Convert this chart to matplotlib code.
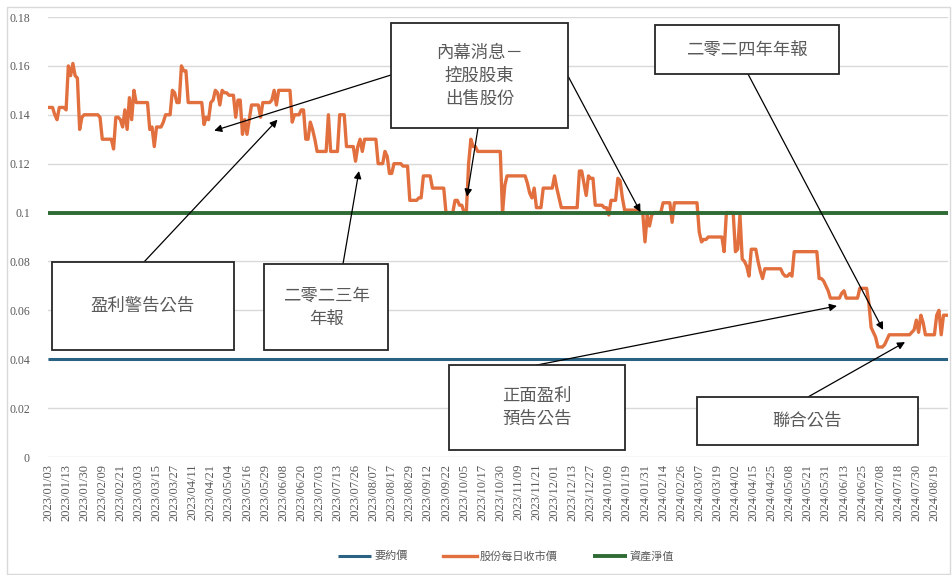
import matplotlib
matplotlib.use('Agg')
import numpy as np
import matplotlib.pyplot as plt
from matplotlib.patches import Rectangle

# category labels, one every 8th trading day
date_labels = [
    '2023/01/03', '2023/01/13', '2023/01/30', '2023/02/09', '2023/02/21',
    '2023/03/03', '2023/03/15', '2023/03/27', '2023/04/11', '2023/04/21',
    '2023/05/04', '2023/05/16', '2023/05/29', '2023/06/08', '2023/06/20',
    '2023/07/03', '2023/07/13', '2023/07/26', '2023/08/07', '2023/08/17',
    '2023/08/29', '2023/09/12', '2023/09/22', '2023/10/05', '2023/10/17',
    '2023/10/30', '2023/11/09', '2023/11/21', '2023/12/01', '2023/12/13',
    '2023/12/27', '2024/01/09', '2024/01/19', '2024/01/31', '2024/02/14',
    '2024/02/26', '2024/03/07', '2024/03/19', '2024/04/02', '2024/04/15',
    '2024/04/25', '2024/05/08', '2024/05/21', '2024/05/31', '2024/06/13',
    '2024/06/25', '2024/07/08', '2024/07/18', '2024/07/30', '2024/08/19',
]
label_step = 8

offer_price = 0.04
nav_value = 0.10

# daily close, as (price, number of trading days) runs
close_runs_a = [
    (0.143, 3), (0.140, 1), (0.138, 1), (0.143, 3), (0.142, 1), (0.160, 1),
    (0.156, 1), (0.161, 1), (0.156, 1), (0.155, 1), (0.134, 1), (0.139, 1),
    (0.140, 7), (0.139, 1), (0.130, 5), (0.126, 1), (0.139, 2), (0.138, 1),
    (0.135, 1), (0.142, 1), (0.134, 1), (0.147, 1), (0.138, 1), (0.150, 1),
    (0.145, 6), (0.134, 1), (0.135, 1), (0.127, 1), (0.135, 3), (0.137, 1),
    (0.140, 3), (0.150, 1), (0.149, 1), (0.145, 2), (0.160, 1), (0.158, 2),
]
close_runs_b = [
    (0.145, 7), (0.136, 1), (0.139, 1), (0.138, 1), (0.145, 1), (0.146, 1),
    (0.150, 1), (0.149, 1), (0.144, 1), (0.150, 1), (0.149, 2), (0.148, 3),
    (0.139, 1), (0.146, 2), (0.132, 1), (0.138, 1), (0.132, 1), (0.138, 1),
    (0.144, 4), (0.139, 1), (0.145, 4), (0.146, 1), (0.150, 1), (0.144, 1),
    (0.150, 6), (0.137, 1), (0.140, 3), (0.142, 2), (0.130, 2), (0.137, 1),
    (0.134, 1), (0.130, 1),
]
close_runs_c = [
    (0.125, 5), (0.140, 1), (0.125, 4), (0.140, 3), (0.127, 4), (0.121, 1),
    (0.127, 1), (0.130, 1), (0.125, 1), (0.130, 6), (0.120, 3), (0.125, 1),
    (0.123, 1), (0.116, 2), (0.120, 4), (0.119, 3), (0.105, 4), (0.106, 2),
    (0.115, 4), (0.110, 6), (0.100, 4), (0.105, 2), (0.103, 2), (0.100, 2),
    (0.120, 1), (0.130, 1), (0.127, 2), (0.125, 11), (0.100, 1), (0.111, 1),
    (0.115, 9), (0.112, 1), (0.108, 1), (0.106, 1), (0.110, 1), (0.102, 3),
    (0.110, 5), (0.115, 1), (0.110, 1), (0.106, 1), (0.102, 8), (0.117, 2),
    (0.112, 1), (0.107, 1), (0.115, 1), (0.114, 2), (0.103, 4), (0.102, 2),
    (0.099, 1), (0.105, 3), (0.114, 1), (0.113, 1), (0.106, 1), (0.101, 7),
    (0.100, 2), (0.088, 1), (0.099, 1), (0.0945, 1), (0.099, 1), (0.100, 4),
]
close_runs_d = [
    (0.104, 4), (0.096, 1), (0.104, 11), (0.092, 1), (0.088, 1), (0.089, 2),
    (0.090, 7), (0.084, 1), (0.100, 4), (0.084, 1), (0.085, 1), (0.099, 1),
    (0.081, 1), (0.080, 1), (0.078, 1), (0.074, 1), (0.085, 3), (0.080, 1),
    (0.076, 1), (0.073, 1), (0.077, 8), (0.075, 1), (0.074, 2), (0.075, 1),
    (0.074, 1), (0.084, 11), (0.073, 2), (0.072, 1),
]
close_runs_e = [
    (0.070, 1), (0.068, 1), (0.065, 5), (0.067, 1), (0.068, 1), (0.065, 6),
    (0.069, 4), (0.063, 1), (0.053, 1), (0.051, 1), (0.049, 1), (0.045, 3),
    (0.046, 1), (0.048, 1), (0.050, 10), (0.051, 1), (0.052, 1), (0.056, 1),
    (0.051, 1), (0.058, 1), (0.055, 1), (0.050, 5), (0.058, 1), (0.060, 1),
    (0.050, 1), (0.058, 3),
]

runs = close_runs_a + close_runs_b + close_runs_c + close_runs_d + close_runs_e
close = np.repeat([r[0] for r in runs], [r[1] for r in runs])
days = np.arange(len(close))

# callouts: text, box (left, top, right, bottom in px), arrow start (px), arrow target (day, price)
callouts = [
    ('盈利警告公告', (52, 262, 234, 350), (144, 262), (101.5, 0.138)),
    ('內幕消息－\n控股股東\n出售股份', (391, 23, 568, 128), (391, 75), (73.5, 0.1335)),
    (None, None, (478, 128), (185.3, 0.1065)),
    (None, None, (568, 76), (262.0, 0.1002)),
    ('二零二三年\n年報', (264, 264, 388, 350), (343, 264), (137.5, 0.117)),
    ('二零二四年年報', (655, 25, 839, 74), (748, 74), (369.3, 0.052)),
    ('正面盈利\n預告公告', (449, 365, 625, 450), (537, 365), (348.9, 0.0618)),
    ('聯合公告', (697, 397, 918, 445), (808, 397), (379.0, 0.047)),
]

W, H = 952, 575
cjk = ['Noto Sans CJK TC', 'DejaVu Sans']
grey = '#595959'


def px(x, y):
    return x / W, 1 - y / H


fig = plt.figure(figsize=(W / 100, H / 100), dpi=100)
ax = fig.add_axes([48 / W, 1 - 457 / H, 900 / W, 440 / H])

l_offer, = ax.plot([days[0], days[-1]], [offer_price, offer_price], color='#2A6283', lw=2.2, solid_capstyle='butt')
l_close, = ax.plot(days, close, color='#E2703F', lw=2.4, solid_joinstyle='round')
l_nav, = ax.plot([days[0], days[-1]], [nav_value, nav_value], color='#2F6B35', lw=2.8, solid_capstyle='butt')

ax.set_xlim(0, len(close) - 1)
ax.set_ylim(0, 0.18)
ax.set_yticks(np.arange(0, 0.181, 0.02))
ax.set_yticklabels(['0', '0.02', '0.04', '0.06', '0.08', '0.1', '0.12', '0.14', '0.16', '0.18'])
ax.set_xticks(np.arange(0, len(date_labels) * label_step, label_step))
ax.set_xticklabels(date_labels, rotation=90)
ax.grid(axis='y', color='#D9D9D9', lw=1)
ax.set_axisbelow(True)
for s in ax.spines.values():
    s.set_visible(False)
ax.tick_params(length=0, colors=grey, labelsize=9, pad=5)
for t in ax.get_xticklabels() + ax.get_yticklabels():
    t.set_fontfamily('Liberation Serif')
for t in ax.get_yticklabels():
    t.set_fontsize(8.5)
ax.tick_params(axis='y', pad=13)

for text, box, start, target in callouts:
    ax.annotate('', xy=target, xycoords='data', xytext=px(*start), textcoords='figure fraction',
                arrowprops=dict(arrowstyle='-|>', color='black', lw=0.9, mutation_scale=11,
                                shrinkA=0, shrinkB=0))
    if box is None:
        continue
    x0, y0, x1, y1 = box
    fig.patches.append(Rectangle(px(x0, y1), (x1 - x0) / W, (y1 - y0) / H, transform=fig.transFigure,
                                 facecolor='white', edgecolor='#262626', lw=1.3, zorder=3))
    cx, cy = px((x0 + x1) / 2, (y0 + y1) / 2)
    fig.text(cx, cy, text, ha='center', va='center', fontsize=12.5, color=grey,
             family=cjk, linespacing=1.35, zorder=4)

leg = ax.legend([l_offer, l_close, l_nav], ['要約價', '股份每日收市價', '資產淨值'],
                loc='center', bbox_to_anchor=px(506, 556), bbox_transform=fig.transFigure,
                ncol=3, frameon=False, handlelength=3.0, handletextpad=0.3, columnspacing=3.2,
                prop={'family': cjk, 'size': 8})
for t in leg.get_texts():
    t.set_color(grey)

fig.patches.append(Rectangle(px(7, 574), 943 / W, 567 / H, transform=fig.transFigure,
                             fill=False, edgecolor='#D9D9D9', lw=1))

fig.savefig('out.png', dpi=100)
